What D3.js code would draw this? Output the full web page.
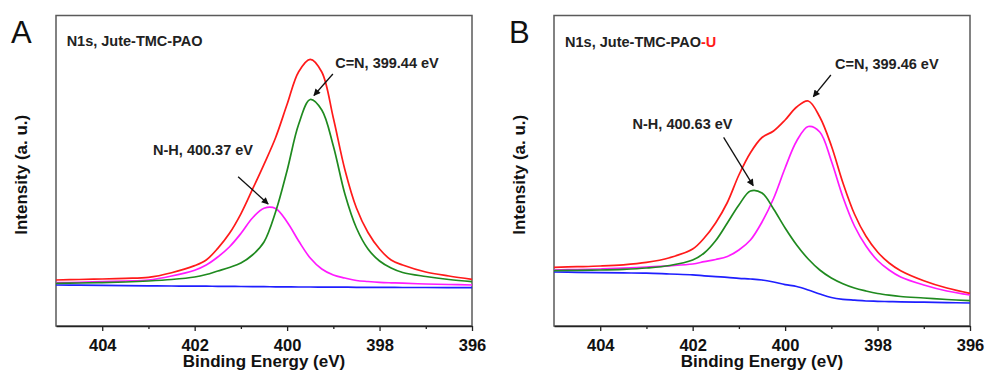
<!DOCTYPE html>
<html>
<head>
<meta charset="utf-8">
<script src="https://cdn.jsdelivr.net/npm/d3@7"></script>
<style>
  body { margin: 0; background: #fff; }
  text { font-family: "Liberation Sans", Arial, sans-serif; }
</style>
</head>
<body>
<div id="chart"></div>
<script>
const energy = [405, 404.5, 404, 403.5, 403, 402.5, 402, 401.75, 401.5, 401.25, 401, 400.75, 400.5, 400.25,
                400, 399.75, 399.5, 399.25, 399, 398.75, 398.5, 398.25, 398, 397.75, 397.5, 397, 396.5, 396];

// Panel A: N1s, Jute-TMC-PAO (intensity, a.u.)
const aEnvelope = [46, 46.5, 47, 47.7, 48.7, 53.3, 60.4, 66, 77.6, 92.4, 112.2, 136.6, 161.7, 188.3,
                   221.7, 254.3, 266.7, 254, 208, 156.3, 118, 93.5, 77, 66, 61, 54, 50, 46.7];
const aCN = [42.7, 43, 43.4, 44, 45, 46.5, 49, 51.5, 55, 58.5, 63, 71, 84, 114,
             155.5, 201.7, 226.5, 216, 180, 132, 98, 77, 65, 58, 53.5, 49.5, 46.5, 44.3];
const aNH = [43.3, 43.7, 44.3, 45, 46, 50, 55.8, 61, 69, 79, 92.5, 108, 117.7, 117.5,
             104, 85, 68, 57, 51, 48, 45.5, 44.5, 43.7, 43.2, 42.8, 42, 41.5, 41];
const aBackground = [41, 40.8, 40.6, 40.4, 40.2, 40, 39.9, 39.8, 39.7, 39.6, 39.5, 39.4, 39.3, 39.2,
                     39.1, 39, 39, 38.9, 38.8, 38.8, 38.7, 38.7, 38.6, 38.6, 38.5, 38.5, 38.4, 38.3];

// Panel B: N1s, Jute-TMC-PAO-U
const bEnvelope = [58.7, 59.3, 60, 61.2, 63.6, 68.3, 77, 88, 103.3, 123.5, 151, 173.3, 188.5, 195,
                   206, 219, 225, 209, 180.3, 143.3, 112, 89.7, 74, 63, 55.3, 45.3, 38, 32.7];
const bCN = [56, 56.5, 57, 57.8, 59, 60.2, 62, 64.3, 66.5, 69.5, 76, 86, 104, 127.5,
             158, 185, 199.5, 194, 165, 129, 100, 80, 65.5, 56, 49, 41, 35, 31];
const bNH = [55.3, 55.7, 56, 56.7, 58, 60.5, 66, 73, 85.5, 103, 121, 135, 133, 117,
             98, 81, 67, 56, 48, 42.3, 38, 35, 32.5, 30.8, 29.5, 28, 26.5, 25.3];
const bBackground = [54, 53.7, 53.4, 53.1, 52.8, 52, 51.2, 50.2, 49.4, 48.7, 47.7, 47, 46, 44,
                     41.4, 39.5, 36, 32, 28.5, 26.7, 25.8, 25, 24.7, 24.4, 24.2, 23.8, 23.4, 23];

// Axis ticks
const xTicks = [404, 402, 400, 398, 396];
const xMinorTicks = [403, 401, 399, 397];

const colors = { envelope: '#ff1a1a', green: '#1f8a1f', magenta: '#ff1aff', blue: '#1f1fff' };

const panels = [
    {
        letter: 'A', left: 56,
        title: 'N1s, Jute-TMC-PAO', suffix: '',
        series: [[aBackground, colors.blue], [aNH, colors.magenta], [aCN, colors.green], [aEnvelope, colors.envelope]],
        notes: [
            { label: 'C=N, 399.44 eV', at: [398.96, 258], from: [399.01, 252], to: [399.42, 230.5] },
            { label: 'N-H, 400.37 eV', at: [402.9, 171], from: [401.06, 149.3], to: [400.41, 122] }
        ],
        titleAt: [404.77, 280.3]
    },
    {
        letter: 'B', left: 554,
        title: 'N1s, Jute-TMC-PAO', suffix: '-U',
        series: [[bBackground, colors.blue], [bCN, colors.magenta], [bNH, colors.green], [bEnvelope, colors.envelope]],
        notes: [
            { label: 'C=N, 399.46 eV', at: [398.92, 257], from: [399.01, 251], to: [399.39, 229.3] },
            { label: 'N-H, 400.63 eV', at: [403.3, 196.7], from: [401.33, 188.7], to: [400.69, 140.3] }
        ],
        titleAt: [404.76, 279.3]
    }
];

// Plot size (same for both panels)
const marginTop = 15.5;
const width = 416;
const height = 310.5;

const svg = d3.select('#chart')
    .append('svg')
    .attr('width', 987)
    .attr('height', 372);

// Arrow head
svg.append('defs').append('marker')
    .attr('id', 'arrow')
    .attr('viewBox', '0 0 10 10')
    .attr('refX', 9).attr('refY', 5)
    .attr('markerWidth', 9).attr('markerHeight', 7)
    .attr('markerUnits', 'userSpaceOnUse')
    .attr('orient', 'auto')
    .append('path')
    .attr('d', 'M0,0 L10,5 L0,10 z')
    .attr('fill', '#111');

const xScale = d3.scaleLinear().domain([405, 396]).range([0, width]);
const yScale = d3.scaleLinear().domain([0, height]).range([height, 0]);

const line = d3.line()
    .x((d, i) => xScale(energy[i]))
    .y(d => yScale(d))
    .curve(d3.curveCatmullRom.alpha(0.5));

panels.forEach(p => {
    const g = svg.append('g').attr('transform', `translate(${p.left}, ${marginTop})`);

    // Frame
    g.append('rect')
        .attr('width', width).attr('height', height)
        .attr('fill', 'none')
        .attr('stroke', '#5a5a5a')
        .attr('stroke-width', 1.5);

    // Curves
    g.selectAll('.curve')
        .data(p.series)
        .enter().append('path')
        .attr('class', 'curve')
        .attr('d', d => line(d[0]))
        .attr('fill', 'none')
        .attr('stroke', d => d[1])
        .attr('stroke-width', 1.7);

    // X axis: major + minor ticks
    const axis = g.append('g')
        .attr('transform', `translate(0, ${height})`)
        .call(d3.axisBottom(xScale).tickValues(xTicks).tickFormat(d3.format('d'))
            .tickSize(5).tickSizeOuter(0).tickPadding(8));
    axis.select('.domain').attr('stroke', '#222').attr('stroke-width', 1.6);
    axis.selectAll('.tick line').attr('stroke', '#222').attr('stroke-width', 1.3);
    axis.selectAll('.tick text')
        .attr('font-size', 16.5).attr('font-weight', 'bold').attr('fill', '#111')
        .attr('font-family', '"Liberation Sans", Arial, sans-serif');
    g.append('g')
        .attr('transform', `translate(0, ${height})`)
        .call(d3.axisBottom(xScale).tickValues(xMinorTicks).tickFormat('').tickSize(3).tickSizeOuter(0))
        .call(s => s.select('.domain').remove())
        .selectAll('.tick line').attr('stroke', '#222').attr('stroke-width', 1.3);

    // Axis names
    g.append('text')
        .text('Binding Energy (eV)')
        .attr('x', width / 2).attr('y', height + 41)
        .attr('text-anchor', 'middle')
        .attr('font-size', 17).attr('font-weight', 'bold').attr('fill', '#111');
    g.append('text')
        .text('Intensity (a. u.)')
        .attr('transform', `translate(-29.5, ${height / 2 + 4}) rotate(-90)`)
        .attr('text-anchor', 'middle')
        .attr('font-size', 17).attr('font-weight', 'bold').attr('fill', '#111');

    // Panel letter
    g.append('text')
        .text(p.letter)
        .attr('x', -45).attr('y', 43 - marginTop)
        .attr('font-size', 31).attr('fill', '#111');

    // Sample name
    const title = g.append('text')
        .attr('x', xScale(p.titleAt[0])).attr('y', yScale(p.titleAt[1]))
        .attr('font-size', 14.5).attr('font-weight', 'bold').attr('fill', '#222');
    title.append('tspan').text(p.title);
    title.append('tspan').text(p.suffix).attr('fill', '#ff1a1a');

    // Peak labels and arrows
    p.notes.forEach(n => {
        g.append('text')
            .text(n.label)
            .attr('x', xScale(n.at[0])).attr('y', yScale(n.at[1]))
            .attr('font-size', 14.5).attr('font-weight', 'bold').attr('fill', '#222');
        g.append('line')
            .attr('x1', xScale(n.from[0])).attr('y1', yScale(n.from[1]))
            .attr('x2', xScale(n.to[0])).attr('y2', yScale(n.to[1]))
            .attr('stroke', '#111').attr('stroke-width', 1.3)
            .attr('marker-end', 'url(#arrow)');
    });
});
</script>
</body>
</html>
